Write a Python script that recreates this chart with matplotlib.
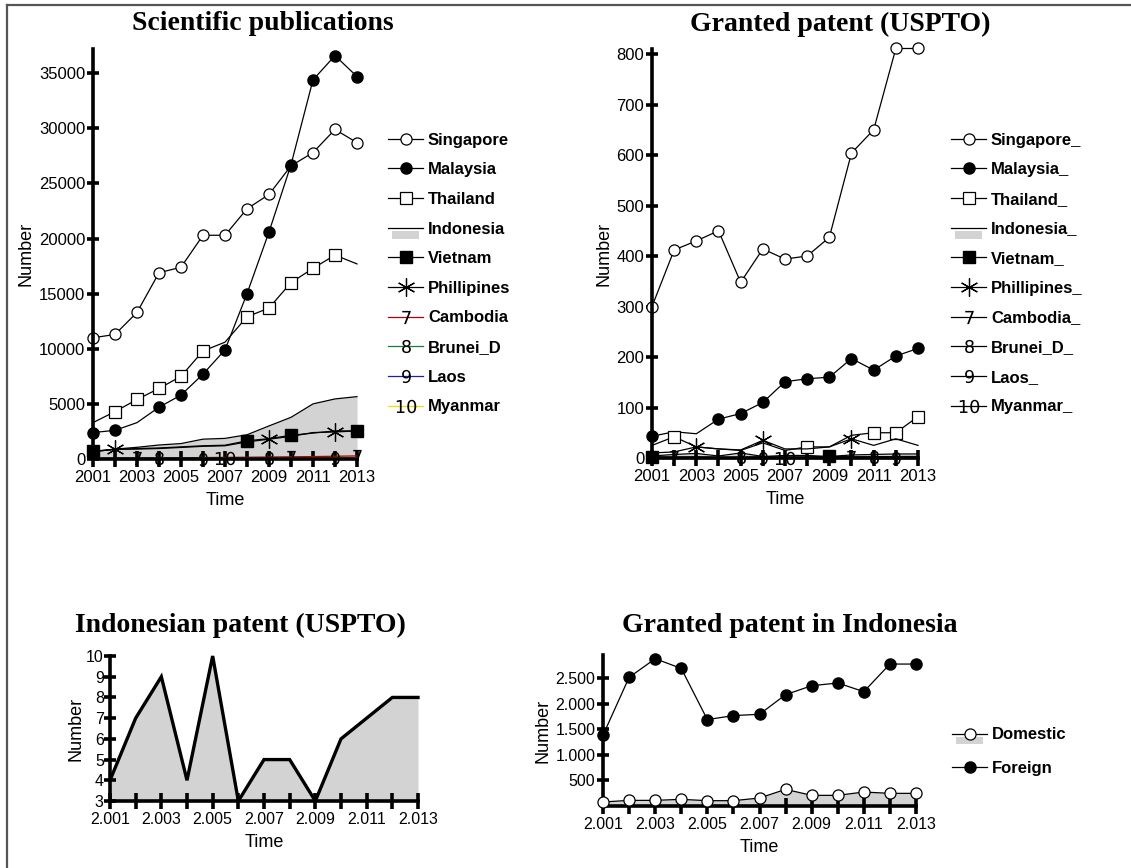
import numpy as np
import matplotlib
matplotlib.use("Agg")
import matplotlib.pyplot as plt
from matplotlib.lines import Line2D
from matplotlib.patches import Rectangle
from matplotlib.ticker import FuncFormatter

plt.rcParams['font.family'] = ['Liberation Sans', 'DejaVu Sans']

years = np.arange(2001, 2014)

# scientific publications
pub_singapore = [11000, 11300, 13300, 16900, 17400, 20300, 20300, 22700, 24000, 26600, 27800, 29900, 28700]
pub_malaysia = [2400, 2600, 3300, 4700, 5800, 7700, 9900, 15000, 20600, 26700, 34400, 36600, 34700]
pub_thailand = [3300, 4300, 5400, 6400, 7500, 9800, 10600, 12900, 13700, 16000, 17300, 18500, 17700]
pub_indonesia = [700, 900, 1060, 1270, 1400, 1800, 1870, 2200, 3000, 3780, 5000, 5450, 5660]
pub_vietnam = [700, 850, 950, 1000, 1100, 1200, 1250, 1650, 1850, 2150, 2350, 2550, 2550]
pub_phillipines = [650, 900, 900, 950, 1050, 1150, 1200, 1550, 1800, 2050, 2400, 2450, 2550]
pub_cambodia = [60, 70, 80, 90, 110, 130, 150, 160, 180, 200, 220, 250, 280]
pub_brunei = [40, 45, 50, 55, 60, 70, 80, 90, 100, 110, 115, 120, 130]
pub_laos = [20, 25, 30, 35, 40, 45, 50, 55, 60, 70, 75, 80, 90]
pub_myanmar = [30, 35, 40, 45, 50, 55, 60, 65, 70, 80, 85, 90, 100]

# granted patents (USPTO)
pat_singapore = [300, 412, 430, 450, 348, 414, 394, 400, 437, 604, 650, 811, 811]
pat_malaysia = [43, 52, 48, 77, 88, 110, 151, 157, 160, 197, 174, 202, 217]
pat_thailand = [25, 42, 22, 18, 15, 30, 15, 22, 22, 45, 50, 50, 82]
pat_indonesia = [4, 7, 9, 4, 10, 3, 5, 5, 3, 6, 7, 8, 8]
pat_vietnam = [2, 1, 1, 0, 1, 1, 1, 1, 3, 2, 2, 3, 3]
pat_phillipines = [10, 12, 22, 18, 16, 35, 18, 18, 22, 38, 25, 38, 25]
pat_cambodia = [1, 1, 2, 1, 1, 2, 1, 1, 2, 1, 2, 2, 1]
pat_brunei = [0, 0, 1, 0, 1, 0, 0, 1, 0, 0, 1, 0, 0]
pat_laos = [0, 0, 0, 0, 0, 0, 0, 0, 0, 0, 0, 0, 0]
pat_myanmar = [0, 0, 0, 0, 0, 0, 0, 0, 0, 0, 0, 0, 0]

# granted patent in Indonesia
ind_domestic = [78, 110, 110, 130, 104, 104, 156, 325, 208, 208, 273, 247, 247]
ind_foreign = [1383, 2513, 2877, 2688, 1688, 1766, 1792, 2175, 2350, 2403, 2234, 2773, 2773]

GREY = '#d3d3d3'

fig = plt.figure(figsize=(11.31, 8.68), dpi=100)

# frame (top and left only, like the source)
fig.add_artist(Line2D([7/1131, 1.0], [1-5/868, 1-5/868], color='#555555', lw=1.6, transform=fig.transFigure))
fig.add_artist(Line2D([7/1131, 7/1131], [0.0, 1-5/868], color='#555555', lw=1.6, transform=fig.transFigure))


class FillLineHandler:
    """legend key: line (optionally with marker) above a grey block"""
    def legend_artist(self, legend, orig_handle, fontsize, handlebox):
        x0, y0 = handlebox.xdescent, handlebox.ydescent
        w, h = handlebox.width, handlebox.height
        tr = handlebox.get_transform()
        rect = Rectangle((x0 + 0.12*w, y0 - 0.45*h), 0.76*w, 0.65*h, facecolor=GREY, lw=0, transform=tr)
        ln = Line2D([x0, x0 + w/2, x0 + w], [y0 + 0.45*h]*3, color='black', lw=0.9, transform=tr,
                    marker=orig_handle.get_marker(), mfc=orig_handle.get_markerfacecolor(),
                    mec='black', ms=orig_handle.get_markersize(), mew=0.9, markevery=[1])
        handlebox.add_artist(rect)
        handlebox.add_artist(ln)
        return ln


class FillLine(Line2D):
    pass


def style_axes(ax, ylim, yticks, fmt=None, lsize=12):
    ax.set_xlim(2001, 2013)
    ax.set_ylim(*ylim)
    for s in ['top', 'right']:
        ax.spines[s].set_visible(False)
    for s in ['left', 'bottom']:
        ax.spines[s].set_linewidth(2.6)
        ax.spines[s].set_zorder(5)
    ax.set_xticks(np.arange(2001, 2014, 2))
    ax.set_xticks(np.arange(2002, 2013, 2), minor=True)
    ax.set_yticks(yticks)
    ax.tick_params(axis='x', which='both', direction='inout', length=12, width=2.6, labelsize=lsize, pad=2)
    ax.tick_params(axis='y', which='both', direction='inout', length=9, width=2.6, labelsize=lsize, pad=1)
    if fmt is not None:
        ax.xaxis.set_major_formatter(FuncFormatter(lambda v, p: f"{v/1000:.3f}"))
    ax.set_xlabel('Time', fontsize=13, labelpad=5)
    ax.set_ylabel('Number', fontsize=13, labelpad=3)
    ax.patch.set_alpha(0)


def title(x, y, txt):
    fig.text(x, y, txt, ha='center', va='center', fontsize=20, fontweight='bold', family='Liberation Serif')


lkw = dict(color='black', lw=0.9, clip_on=False)
mk_o = dict(marker='o', mfc='white', mec='black', ms=8, mew=0.9)
mk_f = dict(marker='o', mfc='black', mec='black', ms=8)
mk_s = dict(marker='s', mfc='white', mec='black', ms=8, mew=0.9)
mk_fs = dict(marker='s', mfc='black', mec='black', ms=8)
mk_x = dict(marker=(6, 2, 0), mec='black', ms=13, mew=0.9)

leg_kw = dict(loc='center left', frameon=False, handlelength=2.1, handletextpad=0.3,
              labelspacing=0.88, borderpad=0, borderaxespad=0,
              prop=dict(size=12, weight='bold'), handler_map={FillLine: FillLineHandler()})


def digit(d):
    return dict(marker=f'${d}$', mfc='black', mec='black', ms=9.5 if len(d) == 1 else 14, mew=0)


def draw_block(ax, d, small_colors, suffix):
    ax.fill_between(years, d['ind'], color=GREY, lw=0, zorder=1)
    ax.plot(years, d['ind'], zorder=2, **lkw)
    ax.plot(years, d['sg'], zorder=3, markevery=d['sg_m'], **lkw, **mk_o)
    ax.plot(years, d['my'], zorder=3, markevery=d['my_m'], **lkw, **mk_f)
    ax.plot(years, d['th'], zorder=3, markevery=d['th_m'], **lkw, **mk_s)
    ax.plot(years, d['vn'], zorder=3, markevery=d['vn_m'], **lkw, **mk_fs)
    ax.plot(years, d['ph'], zorder=3, markevery=d['ph_m'], **lkw, **mk_x)
    small = [('kh', '7'), ('bn', '8'), ('la', '9'), ('mm', '10')]
    for (k, dg), c in zip(small, small_colors):
        ax.plot(years, d[k], color=c, lw=0.9, zorder=4, clip_on=False,
                markevery=d[k + '_m'], **digit(dg))
    names = ['Singapore', 'Malaysia', 'Thailand', 'Indonesia', 'Vietnam', 'Phillipines',
             'Cambodia', 'Brunei_D', 'Laos', 'Myanmar']
    handles = [Line2D([], [], color='black', lw=0.9, **mk_o),
               Line2D([], [], color='black', lw=0.9, **mk_f),
               Line2D([], [], color='black', lw=0.9, **mk_s),
               FillLine([], [], color='black', lw=0.9, marker='None'),
               Line2D([], [], color='black', lw=0.9, **mk_fs),
               Line2D([], [], color='black', lw=0.9, **mk_x)]
    for (k, dg), c in zip(small, small_colors):
        handles.append(Line2D([], [], color=c, lw=0.9, **digit(dg)))
    return handles, [n + suffix for n in names]


# --- Scientific publications ---
ax1 = fig.add_axes([93/1131, 1-459/868, 264/1131, 410/868])
d1 = dict(sg=pub_singapore, sg_m=list(range(13)),
          my=pub_malaysia, my_m=[0, 1, 3, 4, 5, 6, 7, 8, 9, 10, 11, 12],
          th=pub_thailand, th_m=[1, 2, 3, 4, 5, 7, 8, 9, 10, 11],
          ind=pub_indonesia,
          vn=pub_vietnam, vn_m=[0, 7, 9, 12],
          ph=pub_phillipines, ph_m=[1, 8, 11],
          kh=pub_cambodia, kh_m=[2, 9, 12],
          bn=pub_brunei, bn_m=[3, 8],
          la=pub_laos, la_m=[5, 11],
          mm=pub_myanmar, mm_m=[6])
h, l = draw_block(ax1, d1, ['#b00000', '#108040', '#2020a0', '#f0e000'], '')
style_axes(ax1, (0, 37200), np.arange(0, 35001, 5000))
title(263/1131, 1-24/868, 'Scientific publications')
fig.legend(h, l, bbox_to_anchor=(388/1131, 1-273.5/868), **leg_kw)

# --- Granted patent (USPTO) ---
ax2 = fig.add_axes([652/1131, 1-458/868, 266/1131, 409/868])
d2 = dict(sg=pat_singapore, sg_m=list(range(13)),
          my=pat_malaysia, my_m=[0, 3, 4, 5, 6, 7, 8, 9, 10, 11, 12],
          th=pat_thailand, th_m=[1, 7, 10, 11, 12],
          ind=pat_indonesia,
          vn=pat_vietnam, vn_m=[0, 8],
          ph=pat_phillipines, ph_m=[2, 5, 9],
          kh=pat_cambodia, kh_m=[1, 9],
          bn=pat_brunei, bn_m=[4, 10],
          la=pat_laos, la_m=[5, 11],
          mm=pat_myanmar, mm_m=[6])
h, l = draw_block(ax2, d2, ['black'] * 4, '_')
style_axes(ax2, (0, 810), np.arange(0, 801, 100))
title(840/1131, 1-24/868, 'Granted patent (USPTO)')
fig.legend(h, l, bbox_to_anchor=(951/1131, 1-273.5/868), **leg_kw)

# --- Indonesian patent (USPTO) ---
ax3 = fig.add_axes([110/1131, 1-801/868, 308/1131, 145/868])
ax3.fill_between(years, pat_indonesia, 3, color=GREY, lw=0)
ax3.plot(years, pat_indonesia, color='black', lw=2.4, clip_on=False, solid_joinstyle='miter')
style_axes(ax3, (3, 10), np.arange(3, 11), fmt='dot', lsize=11.5)
ax3.tick_params(axis='y', pad=0)
ax3.yaxis.labelpad = 1
title(240/1131, 1-625/868, 'Indonesian patent (USPTO)')

# --- Granted patent in Indonesia ---
ax4 = fig.add_axes([603/1131, 1-806/868, 313/1131, 151/868])
ax4.fill_between(years, ind_domestic, color=GREY, lw=0)
ax4.plot(years, ind_domestic, zorder=6, **lkw, **mk_o)
ax4.plot(years, ind_foreign, zorder=6, **lkw, **mk_f)
style_axes(ax4, (0, 2950), np.arange(500, 2501, 500), fmt='dot', lsize=11.5)
ax4.yaxis.set_major_formatter(FuncFormatter(lambda v, p: f"{v/1000:.3f}" if v >= 1000 else f"{v:.0f}"))
title(790/1131, 1-626/868, 'Granted patent in Indonesia')
h4 = [FillLine([], [], color='black', lw=0.9, **mk_o),
      Line2D([], [], color='black', lw=0.9, **mk_f)]
leg4 = dict(leg_kw, labelspacing=1.13)
fig.legend(h4, ['Domestic', 'Foreign'], bbox_to_anchor=(952/1131, 1-751.5/868), **leg4)

fig.savefig('out.png', dpi=100)
